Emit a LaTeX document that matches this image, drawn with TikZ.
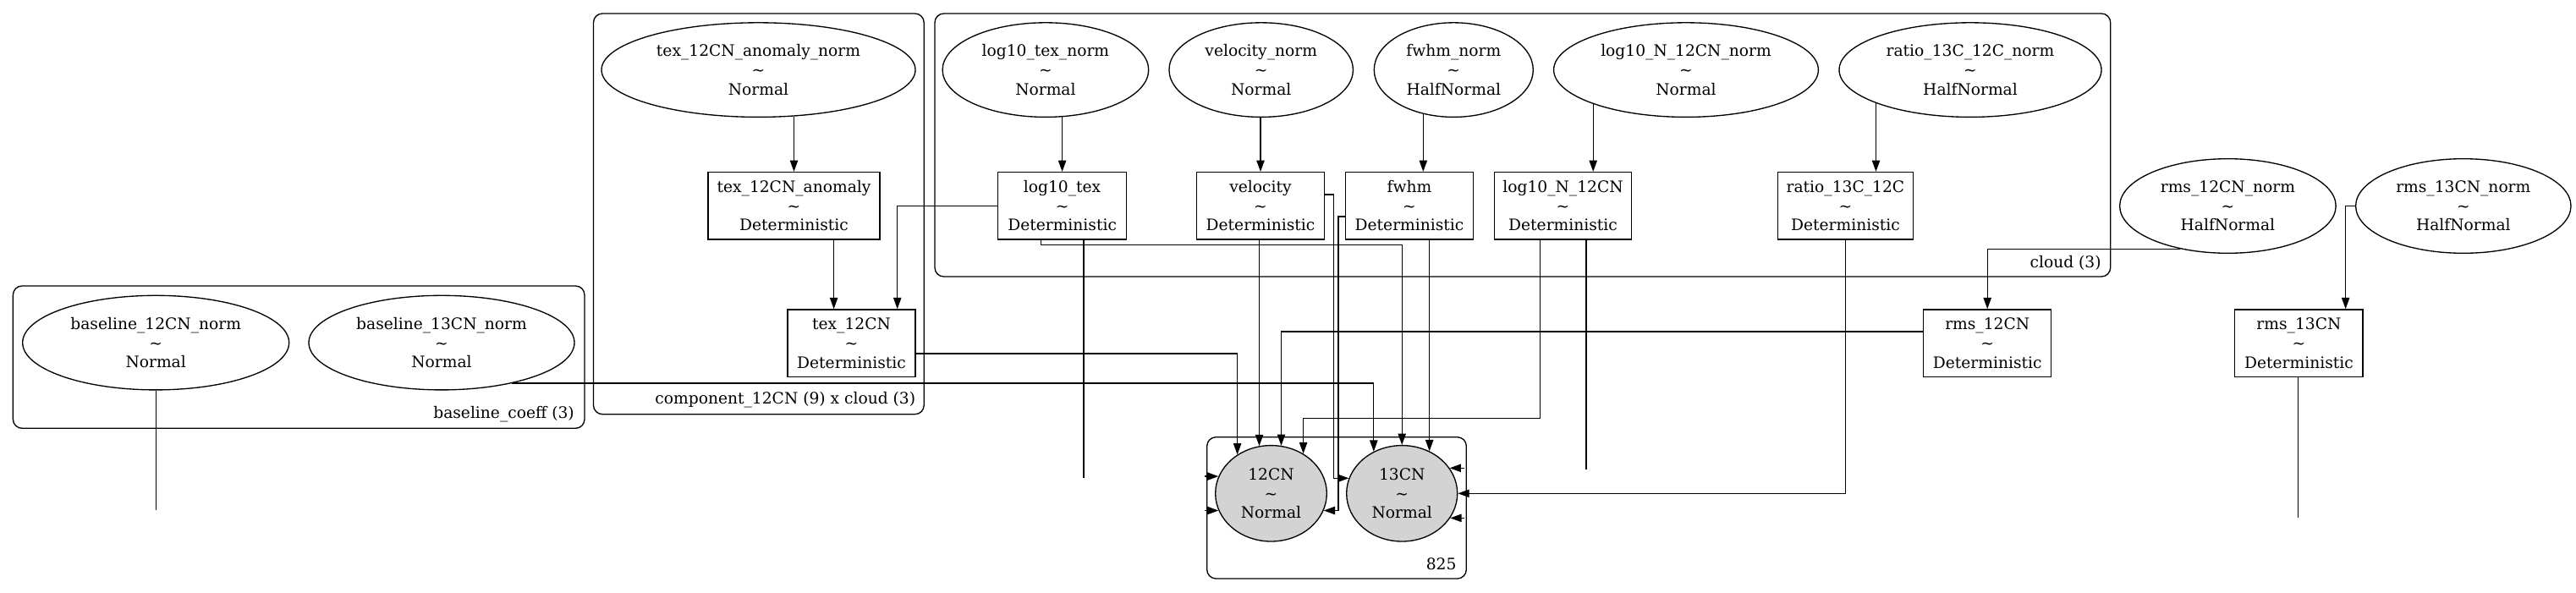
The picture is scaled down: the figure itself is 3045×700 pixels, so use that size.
\documentclass[tikz,border=0pt]{standalone}
\usepackage{fontspec}
\setmainfont{DejaVu Serif}
\usetikzlibrary{shapes.geometric,arrows.meta,calc}
\definecolor{gvlight}{HTML}{D3D3D3}
\begin{document}
\begin{tikzpicture}[x=0.75pt,y=-0.75pt,
  every node/.style={font=\fontsize{14pt}{17pt}\selectfont},
  rvell/.style={ellipse,draw,line width=1pt,inner sep=0pt,minimum height=111.6*0.75pt,minimum width=#1*0.75pt,align=center},
  detbox/.style={rectangle,draw,line width=1pt,inner sep=0pt,minimum height=79.4*0.75pt,minimum width=#1*0.75pt,align=center},
  obs/.style={rvell=#1,fill=gvlight,minimum height=113.4*0.75pt},
  plate/.style={draw,line width=1pt,rounded corners=8pt},
  platelabel/.style={anchor=east,inner sep=0pt},
  arr/.style={line width=1pt,-{Triangle[length=10pt,width=7pt]}},
  wire/.style={line width=1pt}
]
\useasboundingbox (0,0) rectangle (3045,700);

% plates
\draw[plate] (15.4,338) rectangle (691,506.3);
\draw[plate] (701.5,16) rectangle (1092.2,489.7);
\draw[plate] (1105,16) rectangle (2494.7,327);
\draw[plate] (1426.7,516.7) rectangle (1733.3,684);
\node[platelabel] (lblb) at (679,489.7) {baseline\_coeff (3)};
\node[platelabel] (lblc) at (1082.4,472.3) {component\_12CN (9) x cloud (3)};
\node[platelabel] (lblcl) at (2483.9,310.7) {cloud (3)};
\node[platelabel] (lbl825) at (1721.7,666.7) {825};

% random variables
\node[rvell=371] (tanorm) at (896.5,82.6) {tex\_12CN\_anomaly\_norm\\\textasciitilde\\Normal};
\node[rvell=315] (b12norm) at (184.2,405.1) {baseline\_12CN\_norm\\\textasciitilde\\Normal};
\node[rvell=314] (b13norm) at (522,405.1) {baseline\_13CN\_norm\\\textasciitilde\\Normal};
\node[rvell=243.6] (ltnorm) at (1235.9,82.6) {log10\_tex\_norm\\\textasciitilde\\Normal};
\node[rvell=217.5] (vnorm) at (1490.7,82.6) {velocity\_norm\\\textasciitilde\\Normal};
\node[rvell=188] (fnorm) at (1718.3,82.6) {fwhm\_norm\\\textasciitilde\\HalfNormal};
\node[rvell=312.8] (lnnorm) at (1993,82.6) {log10\_N\_12CN\_norm\\\textasciitilde\\Normal};
\node[rvell=310] (rnorm) at (2329,82.6) {ratio\_13C\_12C\_norm\\\textasciitilde\\HalfNormal};
\node[rvell=255.5] (r12norm) at (2633.4,243.5) {rms\_12CN\_norm\\\textasciitilde\\HalfNormal};
\node[rvell=254.4] (r13norm) at (2911.8,243.5) {rms\_13CN\_norm\\\textasciitilde\\HalfNormal};
\node[obs=131.6] (o12) at (1502.5,583.3) {12CN\\\textasciitilde\\Normal};
\node[obs=131] (o13) at (1657.2,583.3) {13CN\\\textasciitilde\\Normal};

% deterministics
\node[detbox=203] (ta) at (938.5,243.3) {tex\_12CN\_anomaly\\\textasciitilde\\Deterministic};
\node[detbox=151] (t) at (1006.5,405.6) {tex\_12CN\\\textasciitilde\\Deterministic};
\node[detbox=151.8] (lt) at (1255.6,243.3) {log10\_tex\\\textasciitilde\\Deterministic};
\node[detbox=151.2] (v) at (1490,243.3) {velocity\\\textasciitilde\\Deterministic};
\node[detbox=151.2] (f) at (1666,243.3) {fwhm\\\textasciitilde\\Deterministic};
\node[detbox=162] (ln) at (1847.5,243.3) {log10\_N\_12CN\\\textasciitilde\\Deterministic};
\node[detbox=160.3] (r) at (2181.4,243.3) {ratio\_13C\_12C\\\textasciitilde\\Deterministic};
\node[detbox=151.2] (r12) at (2349.2,405.6) {rms\_12CN\\\textasciitilde\\Deterministic};
\node[detbox=151.2] (r13) at (2717.4,405.6) {rms\_13CN\\\textasciitilde\\Deterministic};

% coordinates
\coordinate (fin) at ($(f.north)+(16.3,0)$);
\coordinate (lnin) at ($(ln.north)+(35.7,0)$);
\coordinate (rin) at ($(r.north)+(36.1,0)$);
\coordinate (tin) at ($(t.north)+(-20.9,0)$);
\coordinate (ltend) at (1281,565);
\coordinate (lnbend) at (1820.7,494.6);
\coordinate (lnend) at (1875,555);
\coordinate (r13end) at (2716.5,611.7);
\coordinate (b12end) at (184,603);
\coordinate (sl) at (1424,0);
\coordinate (sr) at (1731,0);

% top-row edges
\draw[arr] (tanorm.308 -| ta.north) -- (ta.north);
\draw[arr] (ltnorm.290 -| lt.north) -- (lt.north);
\draw[arr] (vnorm.south -| v.north) -- (v.north);
\draw[arr] (fnorm.235 -| fin) -- (fin);
\draw[arr] (lnnorm.200 -| lnin) -- (lnin);
\draw[arr] (rnorm.199 -| rin) -- (rin);

% other edges
\draw[arr] (ta.south -| tin) -- (tin);
\draw[arr] (lt.west) -| ($(t.north)+(54.2,0)$);
\draw[arr] ($(t.east)+(0,12.4)$) -| (o12.131);
\draw[arr] ($(lt.south)+(-24.9,0)$) -- ++(0,6) -| (o13.north);
\draw[wire] (lt.south -| ltend) -- (ltend);
\draw[arr] (o12.104 |- v.south) -- (o12.104);
\draw[arr] ($(v.east)+(0,-13.3)$) -- ++(10,0) |- (o13.164);
\draw[arr] ($(f.west)+(0,12.7)$) -- ++(-7.7,0) |- (o12.342);
\draw[arr] (o13.57 |- f.south) -- (o13.57);
\draw[arr] (ln.south -| lnbend) -- (lnbend) -| (o12.51);
\draw[wire] (ln.south -| lnend) -- (lnend);
\draw[arr] (r.south) |- (o13.east);
\draw[arr] ($(r12.west)+(0,-13.6)$) -| (o12.78);
\draw[arr] (r12norm.222) -| (r12.north);
\draw[arr] (r13norm.west) -| ($(r13.north)+(55.2,0)$);
\draw[wire] (r13.south -| r13end) -- (r13end);
\draw[wire] (b12norm.south) -- (b12norm.south |- b12end);
\draw[arr] (b13norm.330) -| (o13.124);

% stub arrows
\draw[arr] (o12.162 -| sl) -- (o12.162);
\draw[arr] (o12.198 -| sl) -- (o12.198);
\draw[arr] (o13.28 -| sr) -- (o13.28);
\draw[arr] (o13.333 -| sr) -- (o13.333);
\end{tikzpicture}
\end{document}
